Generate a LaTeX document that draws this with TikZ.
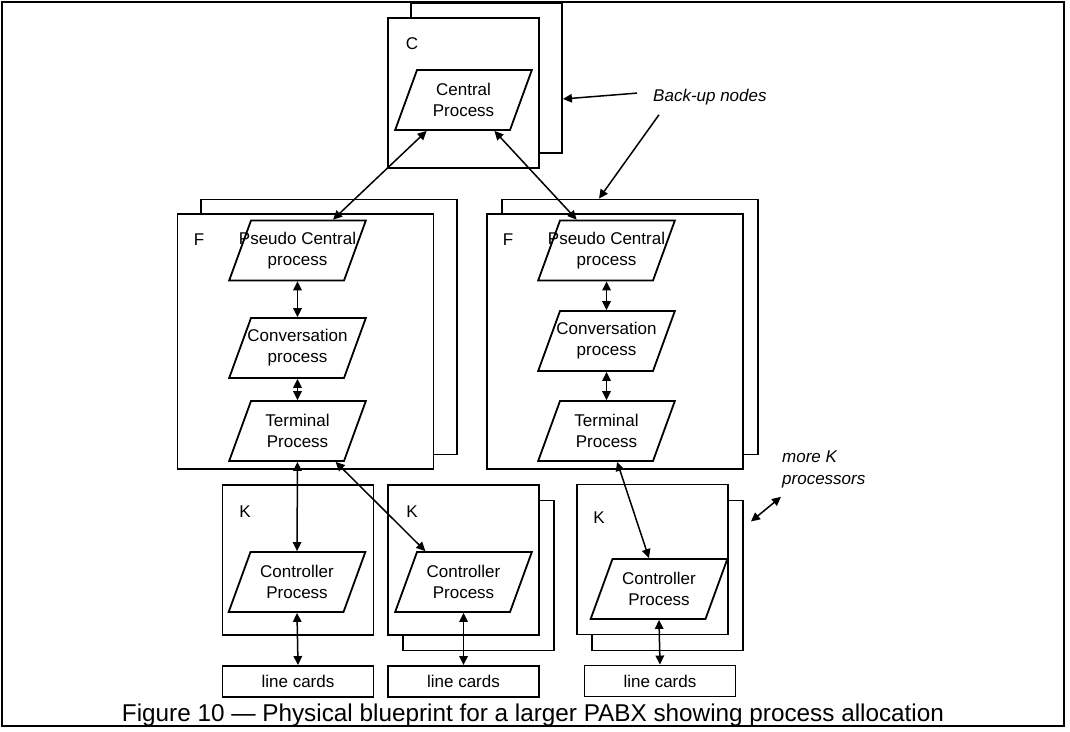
\documentclass[tikz,border=0pt]{standalone}
\usepackage{fontspec}
\setmainfont{Liberation Sans}
\usetikzlibrary{shapes.geometric,arrows.meta}

\begin{document}
\begin{tikzpicture}[x=1pt,y=-1pt,
  font=\fontsize{17}{21}\selectfont,
  nodebox/.style={draw,fill=white,line width=1.9pt,minimum width=151pt,minimum height=150pt,inner sep=0pt},
  bignodebox/.style={nodebox,minimum width=256pt,minimum height=255pt},
  proc/.style={draw,fill=white,trapezium,trapezium left angle=70,trapezium right angle=110,
    inner xsep=46.5pt,inner ysep=30pt,line width=1.8pt},
  cards/.style={draw,line width=1.9pt,minimum width=151pt,minimum height=31pt,inner sep=0pt},
  arr/.style={{Triangle[length=9pt,width=8.5pt]}-{Triangle[length=9pt,width=8.5pt]},line width=1.5pt},
  onearr/.style={{Triangle[length=9pt,width=8.5pt]}-,line width=1.5pt},
  remark/.style={font=\fontsize{17}{22}\selectfont\itshape,inner sep=0pt}]
  \useasboundingbox (0,0) rectangle (1070,731);
  \draw[line width=1.8pt] (2,2) rectangle (1064,726);

  % central node with back-up
  \node[nodebox] (cb) at (486.5,78) {};
  \node[nodebox] (cf) at (463.5,93) {};
  \node[inner sep=0pt] (clab) at (412,44) {C};
  \node[proc,label={[align=center]center:Central\\Process}] (cp) at (463.5,100) {};

  % left F node
  \node[bignodebox] (fb1) at (329,327) {};
  \node[bignodebox] (ff1) at (305.5,341.5) {};
  \node[inner sep=0pt] (flab1) at (199,240) {F};
  \node[proc,label={[align=center]center:Pseudo Central\\process}] (pc1) at (297.5,250.5) {};
  \node[proc,label={[align=center]center:Conversation\\process}] (cv1) at (297.5,348) {};
  \node[proc,label={[align=center]center:Terminal\\Process}] (tp1) at (297.5,431) {};

  % right F node
  \node[bignodebox] (fb2) at (630,327) {};
  \node[bignodebox] (ff2) at (615,341.5) {};
  \node[inner sep=0pt] (flab2) at (508,240) {F};
  \node[proc,label={[align=center]center:Pseudo Central\\process}] (pc2) at (606.5,250.5) {};
  \node[proc,label={[align=center]center:Conversation\\process}] (cv2) at (606.5,341) {};
  \node[proc,label={[align=center]center:Terminal\\Process}] (tp2) at (606.5,431) {};

  % K nodes
  \node[nodebox] (kf1) at (298,560) {};
  \node[inner sep=0pt] (klab1) at (245,512) {K};
  \node[proc,label={[align=center]center:Controller\\Process}] (ct1) at (297,582) {};
  \node[cards] (lc1) at (298,681.5) {line cards};

  \node[nodebox] (kb2) at (478.5,575.5) {};
  \node[nodebox] (kf2) at (463.5,560) {};
  \node[inner sep=0pt] (klab2) at (412,512) {K};
  \node[proc,label={[align=center]center:Controller\\Process}] (ct2) at (463.5,582) {};
  \node[cards] (lc2) at (463.5,681.5) {line cards};

  \node[nodebox] (kb3) at (667.5,575.5) {};
  \node[nodebox] (kf3) at (652.5,559.5) {};
  \node[inner sep=0pt] (klab3) at (599,518) {K};
  \node[proc,label={[align=center]center:Controller\\Process}] (ct3) at (659,589) {};
  \node[cards] (lc3) at (660,681) {line cards};

  \node[remark,anchor=base west] (bu) at (653,101) {Back-up nodes};
  \node[remark,align=left,anchor=west] (mk) at (782,469) {more K\\processors};

  \draw[arr] (cp.220) -- (pc1.41);
  \draw[arr] (cp.-45) -- (pc2.134);
  \draw[arr] (pc1.south) -- (cv1.north);
  \draw[arr] (cv1.south) -- (tp1.north);
  \draw[arr] (pc2.south) -- (cv2.north);
  \draw[arr] (cv2.south) -- (tp2.north);
  \draw[arr] (tp1.south) -- (ct1.north);
  \draw[arr] (tp1.-39) -- (ct2.141);
  \draw[arr] (tp2.-71) -- (ct3.108);
  \draw[arr] (ct1.south) -- (lc1.north);
  \draw[arr] (ct2.south) -- (lc2.north);
  \draw[arr] (ct3.south) -- (lc3.north);

  \draw[onearr] ([yshift=-21pt]cb.east) -- ([xshift=-16pt,yshift=3.5pt]bu.west);
  \draw[onearr] ([xshift=-31pt]fb2.north) -- ([xshift=6pt,yshift=-10pt]bu.south west);
  \draw[arr] ([xshift=7pt,yshift=54pt]kb3.east) -- ([xshift=-1pt,yshift=-9pt]mk.south west);

  \node[font=\fontsize{24.3}{28}\selectfont,anchor=base] (cap) at (533,721)
    {Figure 10 — Physical blueprint for a larger PABX showing process allocation};
\end{tikzpicture}
\end{document}
